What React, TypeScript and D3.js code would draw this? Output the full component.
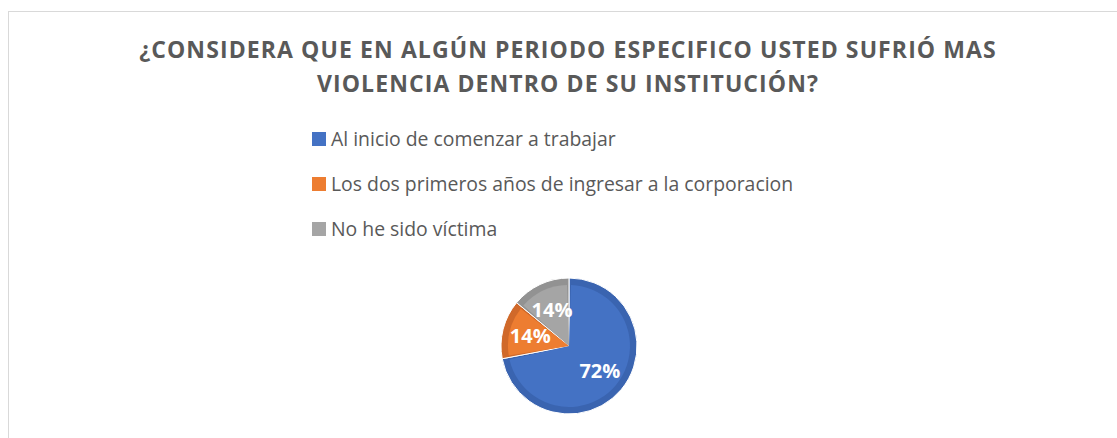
import React, { useEffect, useRef } from 'react'
import * as d3 from 'd3'

const categories = [
  'Al inicio de comenzar a trabajar',
  'Los dos primeros años de ingresar a la corporacion',
  'No he sido víctima',
]
const values = [72, 14, 14]
const colors = ['#4472C4', '#ED7D31', '#A5A5A5']
const edgeColors = ['#3A64B0', '#D0692A', '#929292']
const titleLines = [
  '¿CONSIDERA QUE EN ALGÚN PERIODO ESPECIFICO USTED SUFRIÓ MAS',
  'VIOLENCIA DENTRO DE SU INSTITUCIÓN?',
]

const W = 1117
const H = 438

export default function App() {
  const ref = useRef<SVGSVGElement>(null)

  useEffect(() => {
    const svg = d3.select(ref.current)
    svg.selectAll('*').remove()

    svg.append('rect')
      .attr('x', 8.5).attr('y', 11.5)
      .attr('width', W + 20).attr('height', H + 20)
      .attr('fill', '#fff').attr('stroke', '#D9D9D9')

    svg.selectAll('.title')
      .data(titleLines)
      .enter()
      .append('text')
      .attr('class', 'title')
      .attr('x', 568)
      .attr('y', (d, i) => 58 + i * 34)
      .attr('text-anchor', 'middle')
      .attr('font-family', 'Open Sans')
      .attr('font-weight', 'bold')
      .attr('font-size', 23)
      .attr('letter-spacing', 1.1)
      .attr('fill', '#595959')
      .text(d => d)

    const leg = svg.selectAll('.leg')
      .data(categories)
      .enter()
      .append('g')
      .attr('class', 'leg')
      .attr('transform', (d, i) => `translate(312, ${132 + i * 45})`)
    leg.append('rect')
      .attr('width', 14).attr('height', 14)
      .attr('fill', (d, i) => colors[i])
    leg.append('text')
      .attr('x', 19).attr('y', 14)
      .attr('font-family', 'Open Sans')
      .attr('font-size', 19.4)
      .attr('fill', '#595959')
      .text(d => d)

    const cx = 569, cy = 346, R = 68
    const pie = d3.pie<number>().sort(null).value(d => d)
    const arcs = pie(values)
    const g = svg.append('g').attr('transform', `translate(${cx},${cy})`)
    const outer = d3.arc<d3.PieArcDatum<number>>().innerRadius(0).outerRadius(R)
    const inner = d3.arc<d3.PieArcDatum<number>>().innerRadius(0).outerRadius(R - 7).padAngle(0.1).padRadius(40)

    g.selectAll('.slice')
      .data(arcs)
      .enter()
      .append('path')
      .attr('d', outer)
      .attr('fill', (d, i) => edgeColors[i])
      .attr('stroke', '#fff').attr('stroke-width', 1)
    g.selectAll('.inner')
      .data(arcs)
      .enter()
      .append('path')
      .attr('d', inner)
      .attr('fill', (d, i) => colors[i])

    const labelArc = d3.arc<d3.PieArcDatum<number>>().innerRadius(40).outerRadius(40)
    g.selectAll('.lbl')
      .data(arcs)
      .enter()
      .append('text')
      .attr('transform', d => `translate(${labelArc.centroid(d)})`)
      .attr('dy', '0.35em')
      .attr('text-anchor', 'middle')
      .attr('font-family', 'Open Sans')
      .attr('font-weight', 'bold')
      .attr('font-size', 20)
      .attr('fill', '#fff')
      .text(d => `${d.data}%`)
  }, [])

  return <svg ref={ref} width={W} height={H} style={{ position: 'absolute', left: 0, top: 0 }} />
}
